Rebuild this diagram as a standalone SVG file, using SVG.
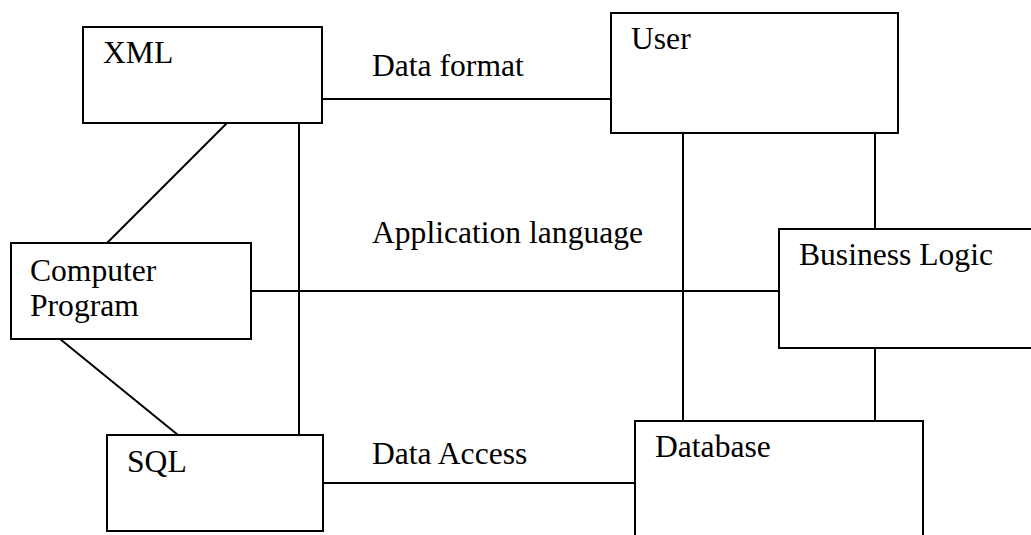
<svg xmlns="http://www.w3.org/2000/svg" width="1031" height="535" viewBox="0 0 1031 535">
<style>
.box{fill:#fff;stroke:#000;stroke-width:2}
.ln{stroke:#000;stroke-width:2;fill:none}
text{font-family:"Liberation Serif","Times New Roman",serif;font-size:31.6px;fill:#000}
</style>
<rect width="1031" height="535" fill="#fff"/>
<g id="connectors">
<line class="ln" x1="322" y1="99" x2="611" y2="99"/>
<line class="ln" x1="227" y1="123" x2="107" y2="243"/>
<line class="ln" x1="299" y1="123" x2="299" y2="435"/>
<line class="ln" x1="251" y1="291" x2="779" y2="291"/>
<line class="ln" x1="60" y1="339" x2="178" y2="435"/>
<line class="ln" x1="323" y1="483" x2="635" y2="483"/>
<line class="ln" x1="683" y1="133" x2="683" y2="421"/>
<line class="ln" x1="875" y1="133" x2="875" y2="229"/>
<line class="ln" x1="875" y1="348" x2="875" y2="421"/>
<text x="372" y="76">Data format</text>
<text x="372" y="243">Application language</text>
<text x="372" y="464">Data Access</text>
</g>
<g id="xml"><rect class="box" x="83" y="27" width="239" height="96"/><text x="103" y="63">XML</text></g>
<g id="user"><rect class="box" x="611" y="13" width="287" height="120"/><text x="631" y="49">User</text></g>
<g id="program"><rect class="box" x="11" y="243" width="240" height="96"/><text x="30" y="281">Computer</text><text x="30" y="316">Program</text></g>
<g id="business"><rect class="box" x="779" y="229" width="260" height="119"/><text x="799" y="265">Business Logic</text></g>
<g id="sql"><rect class="box" x="107" y="435" width="216" height="96"/><text x="127" y="472">SQL</text></g>
<g id="database"><rect class="box" x="635" y="421" width="288" height="130"/><text x="655" y="457">Database</text></g>
</svg>
